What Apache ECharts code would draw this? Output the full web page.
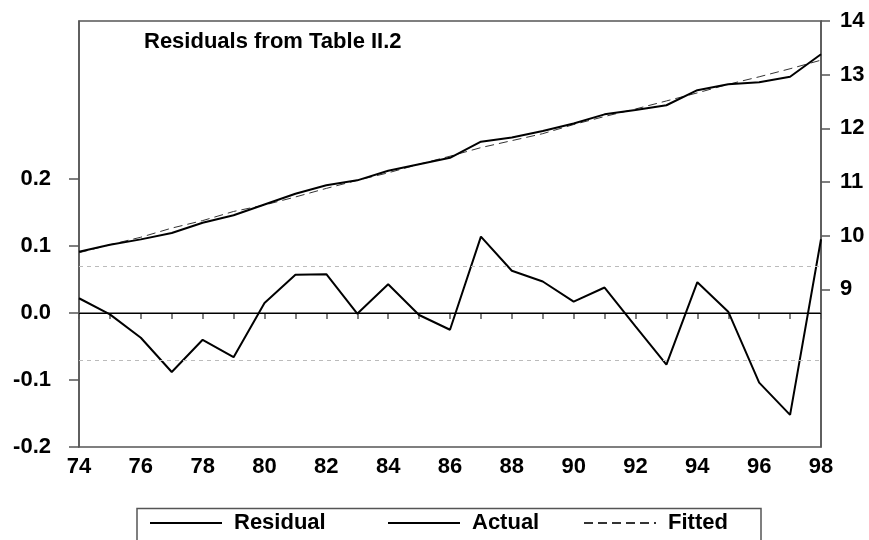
<!DOCTYPE html>
<html>
<head>
<meta charset="UTF-8">
<title>Residuals from Table II.2</title>
<script src="https://cdn.jsdelivr.net/npm/echarts@6/dist/echarts.min.js"></script>
<style>
  html, body { margin: 0; padding: 0; background: #fff; }
  #main { width: 869px; height: 540px; }
</style>
</head>
<body>
<div id="main"></div>
<script>
// years (two-digit labels, 1974-1998)
var years = ['74', '75', '76', '77', '78', '79', '80', '81', '82', '83', '84', '85', '86',
             '87', '88', '89', '90', '91', '92', '93', '94', '95', '96', '97', '98'];

// left axis: residuals
var residual = [0.022, -0.002, -0.037, -0.088, -0.040, -0.066, 0.015, 0.057, 0.058, -0.001,
                0.043, -0.003, -0.025, 0.114, 0.063, 0.047, 0.017, 0.038, -0.020, -0.077,
                0.046, 0.002, -0.104, -0.152, 0.110];

// right axis: actual and fitted
var actual = [9.70, 9.83, 9.93, 10.05, 10.24, 10.38, 10.58, 10.78, 10.94, 11.03, 11.21, 11.33,
              11.45, 11.75, 11.83, 11.95, 12.09, 12.26, 12.34, 12.43, 12.71, 12.82, 12.86,
              12.96, 13.38];
var fitted = [9.68, 9.83, 9.97, 10.14, 10.28, 10.45, 10.57, 10.72, 10.88, 11.03, 11.17, 11.33,
              11.48, 11.64, 11.77, 11.90, 12.07, 12.22, 12.36, 12.51, 12.66, 12.82, 12.96,
              13.11, 13.27];

var leftTicks = [-0.2, -0.1, 0.0, 0.1, 0.2];
var rightTicks = [9, 10, 11, 12, 13, 14];
var seBand = 0.067; // +/- one standard error

var FONT = '"Liberation Sans", Arial, sans-serif';
var AXIS_COLOR = '#555';

var myChart = echarts.init(document.getElementById('main'));

function legendAt(name, left) {
  return {
    data: [name],
    left: left,
    top: 512,
    padding: 0,
    itemWidth: 72,
    itemHeight: 14,
    selectedMode: false,
    // line only, no marker in the middle
    itemStyle: { opacity: 0 },
    textStyle: {
      fontFamily: FONT,
      fontSize: 22,
      fontWeight: 'bold',
      color: '#000',
      padding: [0, 0, 0, 7]
    }
  };
}

var option = {
  backgroundColor: '#fff',
  animation: false,
  title: {
    text: 'Residuals from Table II.2',
    left: 144,
    top: 31,
    padding: 0,
    textStyle: {
      fontFamily: FONT,
      fontSize: 22,
      fontWeight: 'bold',
      color: '#000'
    }
  },
  legend: [
    legendAt('Residual', 149),
    legendAt('Actual', 387),
    legendAt('Fitted', 583)
  ],
  graphic: [{
    type: 'rect',
    shape: { x: 137, y: 508.5, width: 624, height: 50 },
    style: { fill: null, stroke: AXIS_COLOR, lineWidth: 1.5 },
    silent: true
  }],
  grid: {
    left: 79,
    right: 48,
    top: 21,
    bottom: 93,
    show: true,
    borderColor: AXIS_COLOR,
    borderWidth: 1.5
  },
  xAxis: {
    type: 'category',
    data: years,
    boundaryGap: false,
    axisLine: { lineStyle: { color: AXIS_COLOR, width: 1.5 } },
    axisTick: { interval: 0, length: 6, lineStyle: { color: AXIS_COLOR, width: 1.5 } },
    axisLabel: {
      interval: 1,
      margin: 9,
      fontFamily: FONT,
      fontSize: 22,
      fontWeight: 'bold',
      color: '#000'
    },
    splitLine: { show: false }
  },
  yAxis: [{
    type: 'value',
    position: 'left',
    min: -0.2,
    max: 0.4358,
    axisLine: { show: true, lineStyle: { color: AXIS_COLOR, width: 1.5 } },
    axisTick: { show: true, length: 10, customValues: leftTicks, lineStyle: { color: AXIS_COLOR, width: 1.5 } },
    axisLabel: {
      customValues: leftTicks,
      margin: 28,
      fontFamily: FONT,
      fontSize: 22,
      fontWeight: 'bold',
      color: '#000',
      formatter: function (v) { return v.toFixed(1); }
    },
    splitLine: { show: false }
  }, {
    type: 'value',
    position: 'right',
    min: 6.06,
    max: 14,
    axisLine: { show: true, lineStyle: { color: AXIS_COLOR, width: 1.5 } },
    axisTick: { show: true, length: 9, customValues: rightTicks, lineStyle: { color: AXIS_COLOR, width: 1.5 } },
    axisLabel: {
      customValues: rightTicks,
      margin: 19,
      fontFamily: FONT,
      fontSize: 22,
      fontWeight: 'bold',
      color: '#000'
    },
    splitLine: { show: false }
  }],
  series: [{
    name: 'Residual',
    type: 'line',
    yAxisIndex: 0,
    data: residual,
    symbol: 'none',
    lineStyle: { color: '#000', width: 2 },
    itemStyle: { color: '#000' },
    z: 3,
    markLine: {
      silent: true,
      symbol: 'none',
      label: { show: false },
      data: [
        { yAxis: 0, lineStyle: { color: '#000', width: 1, type: 'solid' } },
        { yAxis: seBand, lineStyle: { color: '#bbb', width: 1, type: [4, 4] } },
        { yAxis: -seBand, lineStyle: { color: '#bbb', width: 1, type: [4, 4] } }
      ]
    }
  }, {
    name: 'Actual',
    type: 'line',
    yAxisIndex: 1,
    data: actual,
    symbol: 'none',
    lineStyle: { color: '#000', width: 2 },
    itemStyle: { color: '#000' },
    z: 3
  }, {
    name: 'Fitted',
    type: 'line',
    yAxisIndex: 1,
    data: fitted,
    symbol: 'none',
    lineStyle: { color: '#333', width: 1, type: [9, 5] },
    itemStyle: { color: '#333' },
    z: 2
  }]
};

myChart.setOption(option);
</script>
</body>
</html>
